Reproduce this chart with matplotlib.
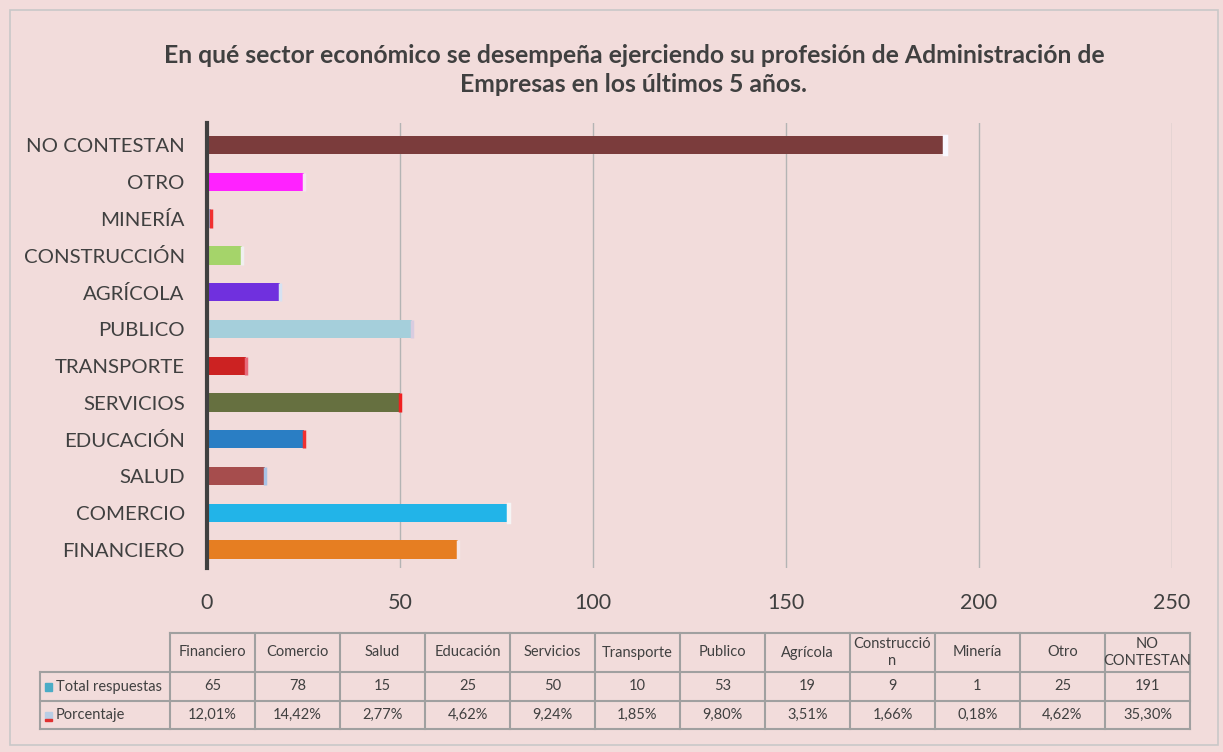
import numpy as np
import matplotlib.pyplot as plt
from matplotlib.patches import Rectangle
from matplotlib.lines import Line2D

plt.rc('font', family=['Lato', 'DejaVu Sans'])

# datos
categorias = ['FINANCIERO', 'COMERCIO', 'SALUD', 'EDUCACIÓN', 'SERVICIOS', 'TRANSPORTE',
              'PUBLICO', 'AGRÍCOLA', 'CONSTRUCCIÓN', 'MINERÍA', 'OTRO', 'NO CONTESTAN']
columnas = ['Financiero', 'Comercio', 'Salud', 'Educación', 'Servicios', 'Transporte',
            'Publico', 'Agrícola', 'Construcció\nn', 'Minería', 'Otro', 'NO\nCONTESTAN']
total = [65, 78, 15, 25, 50, 10, 53, 19, 9, 1, 25, 191]
porcentaje = [12.01, 14.42, 2.77, 4.62, 9.24, 1.85, 9.80, 3.51, 1.66, 0.18, 4.62, 35.30]

colores = ['#E67E22', '#22B4E8', '#A64D4D', '#2A7EC4', '#667040', '#CC2222',
           '#A5CFDB', '#7030DE', '#A5D46A', '#8FB4E0', '#FF22FF', '#7B3C3C']
borde = ['#F5E6E6', '#F5F5F5', '#A8C4E6', '#F03030', '#F02020', '#E86A7A',
         '#D8CCE0', '#D6E2F2', '#F0F0F0', '#F03030', '#F5E6F0', '#F8F8FF']

fondo = '#F2DCDB'
gris = '#404040'

fig = plt.figure(figsize=(12.23, 7.52), dpi=100, facecolor=fondo)
W, H = 1223, 752
ax = fig.add_axes([207 / W, 1 - 568 / H, (1172 - 207) / W, (568 - 123) / H])
ax.set_facecolor(fondo)

y = np.arange(len(categorias))
ax.barh(y, total, height=0.5, color=colores, zorder=3)
pct = np.array(porcentaje) / 100
ax.barh(y, pct, left=total, height=0.5, color=borde, edgecolor=borde, linewidth=2.5, zorder=3)

ax.set_xlim(0, 250)
ax.set_ylim(-0.5, len(categorias) - 0.4)
ax.set_xticks(np.arange(0, 251, 50))
ax.set_yticks(y)
ax.set_yticklabels(categorias)
ax.tick_params(axis='y', length=0, pad=16, labelsize=14.7, labelcolor=gris)
ax.tick_params(axis='x', length=0, pad=18, labelsize=15.5, labelcolor=gris)
ax.grid(axis='x', color='#B4B4B4', lw=1, zorder=1)
for s in ['top', 'right', 'bottom']:
    ax.spines[s].set_visible(False)
ax.spines['left'].set_color(gris)
ax.spines['left'].set_linewidth(3)
ax.spines['left'].set_zorder(4)

fig.text(634 / W, 1 - 70 / H,
         'En qué sector económico se desempeña ejerciendo su profesión de Administración de\nEmpresas en los últimos 5 años.',
         ha='center', va='center', fontsize=17.8, fontweight='bold', color=gris, linespacing=1.3)

# borde exterior
fig.patches.append(Rectangle((10 / W, 7 / H), 1208 / W, 735 / H, transform=fig.transFigure,
                             fill=False, edgecolor='#C8C8C8', lw=1.2))

# tabla de datos
lc = '#A0A0A0'
x0, x1 = 40, 170
cw = (1190 - 170) / len(columnas)
ys = [633, 672, 701, 729]

def hl(xa, xb, yy):
    fig.add_artist(Line2D([xa / W, xb / W], [1 - yy / H, 1 - yy / H], color=lc, lw=1.5))

def vl(xx, ya, yb):
    fig.add_artist(Line2D([xx / W, xx / W], [1 - ya / H, 1 - yb / H], color=lc, lw=1.5))

hl(x1, 1190, ys[0])
for yy in ys[1:]:
    hl(x0, 1190, yy)
vl(x0, ys[1], ys[3])
for i in range(len(columnas) + 1):
    vl(x1 + i * cw, ys[0], ys[3])

ts = 10.5
for i, c in enumerate(columnas):
    xc = (x1 + (i + 0.5) * cw) / W
    fig.text(xc, 1 - (ys[0] + ys[1]) / 2 / H, c, ha='center', va='center', fontsize=ts,
             color=gris, linespacing=1.3)
    fig.text(xc, 1 - (ys[1] + ys[2]) / 2 / H, str(total[i]), ha='center', va='center',
             fontsize=ts, color=gris)
    fig.text(xc, 1 - (ys[2] + ys[3]) / 2 / H, f'{porcentaje[i]:.2f}%'.replace('.', ','),
             ha='center', va='center', fontsize=ts, color=gris)

fig.patches.append(Rectangle((45 / W, 1 - 691 / H), 7 / W, 8 / H, transform=fig.transFigure,
                             color='#4BACC6'))
fig.text(56 / W, 1 - 686.5 / H, 'Total respuestas', ha='left', va='center', fontsize=ts, color=gris)
fig.patches.append(Rectangle((45 / W, 1 - 719 / H), 7 / W, 7 / H, transform=fig.transFigure,
                             color='#B9CDE5'))
fig.patches.append(Rectangle((45 / W, 1 - 721 / H), 7 / W, 2 / H, transform=fig.transFigure,
                             color='#E03030'))
fig.text(56 / W, 1 - 715 / H, 'Porcentaje', ha='left', va='center', fontsize=ts, color=gris)

plt.savefig('out.png', dpi=100, facecolor=fondo)
